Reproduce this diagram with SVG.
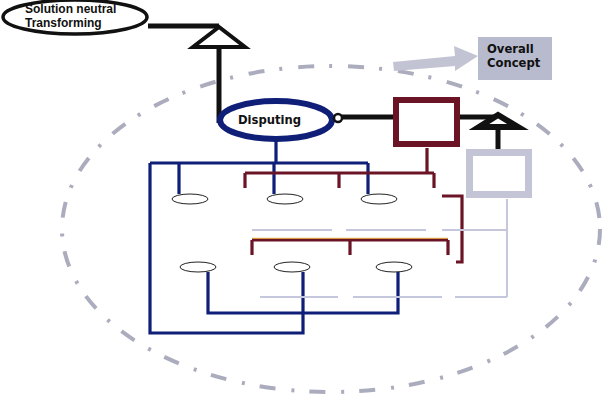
<svg xmlns="http://www.w3.org/2000/svg" width="606" height="412" viewBox="0 0 606 412">
<defs>
<style>
.lbl{font-family:"DejaVu Sans","Verdana",sans-serif;font-weight:bold;fill:#111}
.lbl2{font-family:"Liberation Sans",Arial,sans-serif;font-weight:bold;fill:#111}
.blk{stroke:#111;fill:none;stroke-width:5}
.navy{stroke:#0f1f78;fill:none;stroke-width:3.2;stroke-linejoin:miter}
.red{stroke:#6b1426;fill:none;stroke-width:3.2}
.thin{stroke:#c5c8dc;fill:none;stroke-width:2}
.leaf{fill:#fff;stroke:#222;stroke-width:1}
</style>
</defs>
<rect width="606" height="412" fill="#fff"/>
<g id="boundary">
<ellipse cx="331" cy="229" rx="269" ry="163" fill="none" stroke="#abadbe" stroke-width="4" stroke-dasharray="16 15 3 16"/>
</g>
<g id="connectors">
<path class="blk" d="M148 26H219" stroke-width="4"/>
<path class="blk" d="M219 48V123"/>
<path class="blk" d="M342 117H394" stroke-width="6"/>
<path class="blk" d="M460 117H498" stroke-width="6"/>
<path class="blk" d="M498 129V150" stroke-width="7"/>
<polygon points="219,27 193,47 245,47" fill="#fff" stroke="#111" stroke-width="4" stroke-linejoin="miter"/>
<polygon points="498,115 479,127 518,127" fill="#fff" stroke="#111" stroke-width="6"/>
<path d="M393 62L455 56L454 46L478 56L455 71L455 66L394 71Z" fill="#c2c4d3"/>
<path class="navy" d="M276 141V163M150 163H368M179 163V194M274 163V194M368 163V194M150 163V333H303V272M208 272V313H398V272"/>
<path class="red" d="M427 148V173M245 173H434M245 173V188M339 173V188M434 173V188M442 196H462V262H456M252 240H448M252 240V255M350 240V255M448 240V255"/>
<path d="M252 238.3H448" stroke="#e0a030" stroke-width="1"/>
<path class="thin" d="M507 199V297M252 230H332M346 230H426M442 230H507M260 297H338M353 297H442M455 297H507"/>
</g>
<g id="solution">
<ellipse cx="75" cy="17" rx="72" ry="17" fill="#fff" stroke="#111" stroke-width="3.5"/>
<text class="lbl2" x="25" y="12.5" font-size="12">Solution neutral</text>
<text class="lbl2" x="25" y="26.5" font-size="12">Transforming</text>
</g>
<g id="disputing">
<ellipse cx="276" cy="120" rx="56" ry="19" fill="#fff" stroke="#0f1f78" stroke-width="6"/>
<text class="lbl" x="238" y="123.5" font-size="11.6">Disputing</text>
<circle cx="338" cy="118" r="4" fill="#fff" stroke="#111" stroke-width="2.5"/>
</g>
<g id="overall">
<rect x="478" y="37" width="74" height="43" fill="#b8bacd"/>
<text class="lbl" x="487" y="53" font-size="11.6">Overall</text>
<text class="lbl" x="487" y="66.5" font-size="11.6">Concept</text>
</g>
<g id="redbox">
<rect x="396" y="100" width="61" height="44" fill="#fff" stroke="#6b1426" stroke-width="6"/>
</g>
<g id="graybox">
<rect x="469.5" y="152.5" width="59" height="42" fill="#fff" stroke="#c3c5d7" stroke-width="7"/>
</g>
<g id="leaves">
<ellipse class="leaf" cx="190" cy="199" rx="18" ry="5"/>
<ellipse class="leaf" cx="285" cy="199" rx="18" ry="5"/>
<ellipse class="leaf" cx="379" cy="199" rx="18" ry="5"/>
<ellipse class="leaf" cx="198" cy="267" rx="18" ry="5"/>
<ellipse class="leaf" cx="292" cy="267" rx="18" ry="5"/>
<ellipse class="leaf" cx="394" cy="267" rx="18" ry="5"/>
</g>
</svg>
